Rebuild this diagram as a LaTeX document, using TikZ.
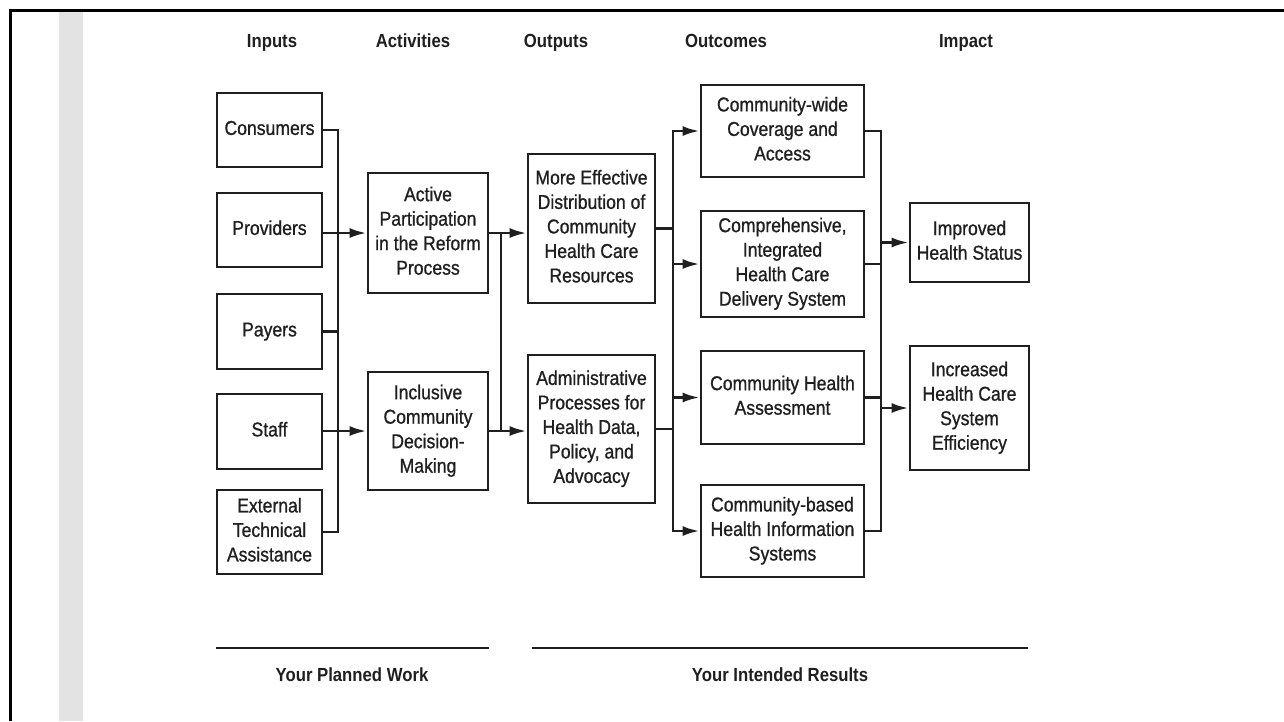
\documentclass[tikz,border=0pt]{standalone}
\usepackage{fontspec}
\setmainfont{Liberation Sans}[FakeStretch=0.88, UprightFeatures={FakeBold=0.9}]
\usepackage{tikz}
\usetikzlibrary{arrows.meta}
\definecolor{ink}{gray}{0.12}
\definecolor{strip}{gray}{0.89}
\tikzset{head/.style={anchor=base, font=\fontsize{19}{23}\selectfont\bfseries}}
\newcommand{\lmbox}[5]{
	\node [draw, fill=white, minimum width=#3, minimum height=#4, inner sep=0pt] (#1) at (#2) {};
	\node [inner sep=0pt] () at (#2) {\begin{tabular}{c}#5\end{tabular}};}

\begin{document}
\begin{tikzpicture}[x=1pt,y=-1pt,>={Latex[length=17pt,width=10pt]},line width=2.8pt,line cap=rect,color=ink,font=\fontsize{20}{24.5}\selectfont]
	\useasboundingbox (0,0) rectangle (1284,721);
	% page frame
	\fill [strip] (59,12) rectangle (83,721);
	\draw [line width=3pt,black,line cap=butt] (1284,10.5) -- (10,10.5) -- (10,721);
	% column heads
	\node [head] (hin) at (272,47) {Inputs};
	\node [head] (hact) at (413,47) {Activities};
	\node [head] (hout) at (556,47) {Outputs};
	\node [head] (houtc) at (726,47) {Outcomes};
	\node [head] (himp) at (966,47) {Impact};
	% inputs
	\lmbox{cons}{269.5,130}{105pt}{74pt}{Consumers}
	\lmbox{prov}{269.5,230}{105pt}{74pt}{Providers}
	\lmbox{pay}{269.5,331.5}{105pt}{75pt}{Payers}
	\lmbox{staff}{269.5,431.5}{105pt}{75pt}{Staff}
	\lmbox{ext}{269.5,532}{105pt}{84pt}{External\\ Technical\\ Assistance}
	% activities
	\lmbox{act}{428,233}{120pt}{120pt}{Active\\ Participation\\ in the Reform\\ Process}
	\lmbox{incl}{428,431}{120pt}{118pt}{Inclusive\\ Community\\ Decision-\\ Making}
	% outputs
	\lmbox{dist}{591.5,228.5}{127pt}{149pt}{More Effective\\ Distribution of\\ Community\\ Health Care\\ Resources}
	\lmbox{admin}{591.5,429}{127pt}{148pt}{Administrative\\ Processes for\\ Health Data,\\ Policy, and\\ Advocacy}
	% outcomes
	\lmbox{cw}{782.5,131}{163pt}{92pt}{Community-wide\\ Coverage and\\ Access}
	\lmbox{comp}{782.5,264}{163pt}{106pt}{Comprehensive,\\ Integrated\\ Health Care\\ Delivery System}
	\lmbox{cha}{782.5,397.5}{163pt}{93pt}{Community Health\\ Assessment}
	\lmbox{cb}{782.5,531}{163pt}{92pt}{Community-based\\ Health Information\\ Systems}
	% impact
	\lmbox{imp}{969.5,242.5}{119pt}{79pt}{Improved\\ Health Status}
	\lmbox{incr}{969.5,408}{119pt}{124pt}{Increased\\ Health Care\\ System\\ Efficiency}
	% buses
	\coordinate (b1) at (338,0);
	\coordinate (b2) at (501,0);
	\coordinate (b3) at (673,0);
	\coordinate (b4) at (881,0);
	\draw (cons.east) -| (b1 |- ext.east) -- (ext.east);
	\draw (pay.east) -- (pay.east -| b1);
	\draw [->] (prov.east |- act.west) -- (act.west);
	\draw [->] (staff.east |- incl.west) -- (incl.west);
	\draw (b2 |- act.east) -- (b2 |- incl.east);
	\draw [->] (act.east) -- (dist.west |- act.east);
	\draw [->] (incl.east) -- (admin.west |- incl.east);
	\draw (dist.east) -- (dist.east -| b3);
	\draw (admin.east) -- (admin.east -| b3);
	\draw (b3 |- cw.west) -- (b3 |- cb.west);
	\foreach \n in {cw,comp,cha,cb} \draw [->] (b3 |- \n.west) -- (\n.west);
	\foreach \n in {cw,comp,cha,cb} \draw (\n.east) -- (\n.east -| b4);
	\draw (b4 |- cw.east) -- (b4 |- cb.east);
	\draw [->] (b4 |- imp.west) -- (imp.west);
	\draw [->] (b4 |- incr.west) -- (incr.west);
	% planned work / intended results
	\draw (217,648) -- (488,648);
	\draw (533,648) -- (1027,648);
	\node [head] (work) at (352,681) {Your Planned Work};
	\node [head] (results) at (780,681) {Your Intended Results};
\end{tikzpicture}
\end{document}
